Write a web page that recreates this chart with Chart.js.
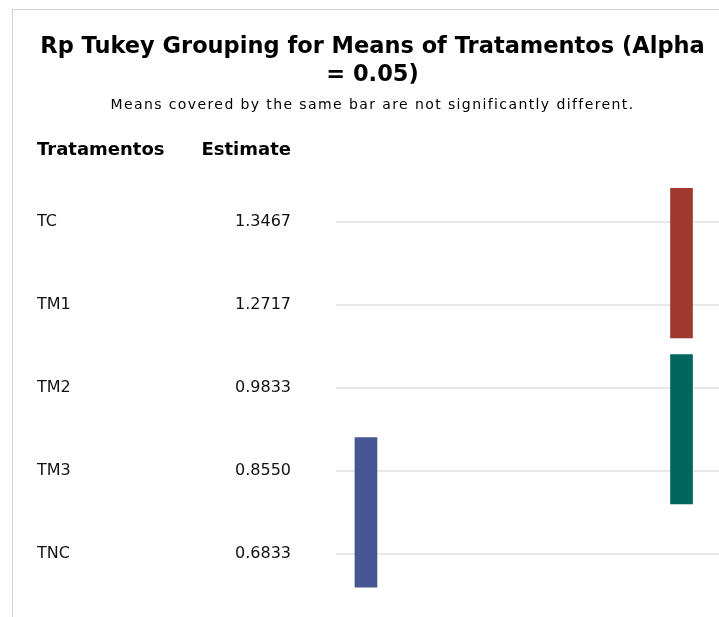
<!DOCTYPE html>
<html>
<head>
<meta charset="utf-8">
<script src="https://cdn.jsdelivr.net/npm/chart.js@4/dist/chart.umd.min.js"></script>
<style>
  html, body { margin: 0; padding: 0; background: #fff; overflow: hidden; }
  #frame {
    position: absolute; left: 12px; top: 9px;
    width: 740px; height: 640px; overflow: hidden;
    border-left: 1px solid #d2d2d2; border-top: 1px solid #d2d2d2;
  }
  #frame canvas { display: block; }
</style>
</head>
<body>
<div id="frame"><canvas id="chart" width="719" height="640"></canvas></div>
<script>
// rows of the lines plot, top to bottom
var treatments = ['TC', 'TM1', 'TM2', 'TM3', 'TNC'];
var estimates = [1.3467, 1.2717, 0.9833, 0.8550, 0.6833];

// each Tukey group: first and last treatment covered, and its column
var groupFrom = ['TC', 'TM2', 'TM3'];
var groupTo = ['TM1', 'TM3', 'TNC'];
var groupColumn = [2, 2, 1];

var groupColors = ['#A0392D', '#01665E', '#445694'];
var overhang = 0.4; // bar reaches a bit past the first/last row

var rowTicks = function(scale) {
  scale.ticks = treatments.map(function(t, i) { return {value: i + 1}; });
};

var datasets = groupFrom.map(function(from, i) {
  var a = treatments.indexOf(from) + 1;
  var b = treatments.indexOf(groupTo[i]) + 1;
  return {
    label: 'Group ' + (i + 1),
    data: [{x: groupColumn[i], y: [a - overhang, b + overhang]}],
    backgroundColor: groupColors[i],
    borderWidth: 0,
    barThickness: 22,
    grouped: false,
    yAxisID: 'y'
  };
});

// subtitle and column headers (SAS draws them letter-spaced)
var headerText = {
  id: 'headerText',
  afterDraw: function(chart) {
    var ctx = chart.ctx;
    var area = chart.chartArea;
    ctx.save();
    ctx.fillStyle = '#000';
    ctx.textBaseline = 'alphabetic';

    ctx.font = '14px "DejaVu Sans"';
    ctx.letterSpacing = '1.4px';
    ctx.textAlign = 'center';
    ctx.fillText('Means covered by the same bar are not significantly different.', chart.width / 2, 99);

    ctx.letterSpacing = '0px';
    ctx.font = 'bold 18px "DejaVu Sans"';
    var names = chart.scales.yName;
    var est = chart.scales.y;
    ctx.textAlign = 'left';
    ctx.fillText('Tratamentos', names.left, area.top - 25);
    ctx.textAlign = 'right';
    ctx.fillText('Estimate', est.right - 45, area.top - 25);
    ctx.restore();
  }
};

var ctx = document.getElementById('chart').getContext('2d');
new Chart(ctx, {
  type: 'bar',
  data: { datasets: datasets },
  plugins: [headerText],
  options: {
    responsive: false,
    animation: false,
    layout: { padding: { left: 0, right: 0, top: 0, bottom: 23 } },
    plugins: {
      legend: { display: false },
      tooltip: { enabled: false },
      title: {
        display: true,
        text: ['Rp Tukey Grouping for Means of Tratamentos (Alpha', '= 0.05)'],
        color: '#000',
        font: { family: '"DejaVu Sans"', size: 22.5, weight: 'bold', lineHeight: '28px' },
        padding: { top: 23, bottom: 91 }
      }
    },
    scales: {
      x: {
        type: 'linear',
        display: false,
        offset: false,
        min: 0.905,
        max: 2.16
      },
      y: {
        type: 'linear',
        position: 'left',
        weight: 1,
        reverse: true,
        min: 0.5,
        max: 5.5,
        afterBuildTicks: rowTicks,
        afterFit: function(s) { s.width = 149; },
        border: { display: false },
        grid: { color: '#e8e8e8', lineWidth: 2, drawTicks: false },
        ticks: {
          autoSkip: false,
          crossAlign: 'near',
          padding: 45,
          color: '#111',
          font: { family: '"DejaVu Sans"', size: 16 },
          callback: function(v) { return estimates[v - 1].toFixed(4); }
        }
      },
      yName: {
        type: 'linear',
        position: 'left',
        weight: 2,
        reverse: true,
        min: 0.5,
        max: 5.5,
        afterBuildTicks: rowTicks,
        afterFit: function(s) { s.width = 150; },
        border: { display: false },
        grid: { display: false, drawTicks: false },
        ticks: {
          autoSkip: false,
          crossAlign: 'far',
          color: '#111',
          font: { family: '"DejaVu Sans"', size: 16 },
          callback: function(v) { return treatments[v - 1]; }
        }
      },
      // empty margin left of the treatment names
      yPad: {
        type: 'linear',
        position: 'left',
        weight: 3,
        afterFit: function(s) { s.width = 24; },
        border: { display: false },
        grid: { display: false, drawTicks: false },
        ticks: { display: false }
      }
    }
  }
});
</script>
</body>
</html>
